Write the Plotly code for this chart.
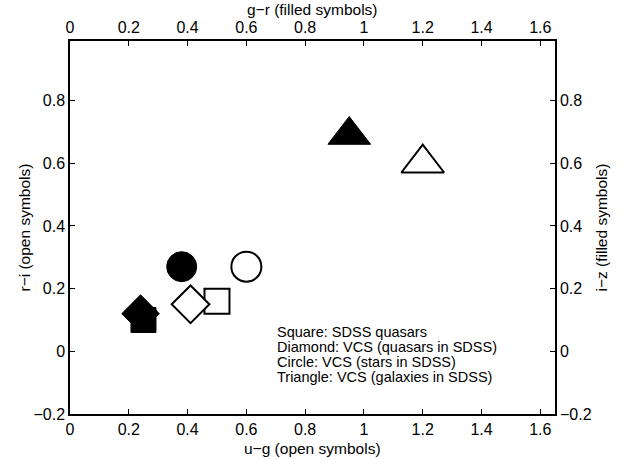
import plotly.graph_objects as go

# Open symbols: u-g (x) vs r-i (y)
open_labels = ["Square", "Diamond", "Circle", "Triangle"]
open_ug = [0.50, 0.41, 0.60, 1.20]
open_ri = [0.16, 0.15, 0.27, 0.60]

# Filled symbols: g-r (x) vs i-z (y)
filled_gr = [0.25, 0.24, 0.38, 0.95]
filled_iz = [0.10, 0.12, 0.27, 0.69]

symbols = ["square", "diamond", "circle", "triangle-up"]
sizes = [25, 29, 30, 37]

x_ticks = [0, 0.2, 0.4, 0.6, 0.8, 1.0, 1.2, 1.4, 1.6]
x_ticktext = ["0", "0.2", "0.4", "0.6", "0.8", "1", "1.2", "1.4", "1.6"]
y_ticks = [-0.2, 0, 0.2, 0.4, 0.6, 0.8]
y_ticktext = ["\u22120.2", "0", "0.2", "0.4", "0.6", "0.8"]

x_title_bottom = "u\u2212g (open symbols)"
x_title_top = "g\u2212r (filled symbols)"
y_title_left = "r\u2212i (open symbols)"
y_title_right = "i\u2212z (filled symbols)"

legend_lines = [
    "Square: SDSS quasars",
    "Diamond: VCS (quasars in SDSS)",
    "Circle: VCS (stars in SDSS)",
    "Triangle: VCS (galaxies in SDSS)",
]

FONT = "Liberation Sans, Arial, Helvetica, sans-serif"
W, H = 625, 459
ML, MR, MT, MB = 70, 70, 41, 45
PW, PH = W - ML - MR, H - MT - MB

fig = go.Figure()

# filled symbols (drawn first)
for i in range(len(symbols)):
    fig.add_trace(go.Scatter(
        x=[filled_gr[i]], y=[filled_iz[i]], mode="markers",
        xaxis="x2", yaxis="y2",
        marker=dict(symbol=symbols[i], size=sizes[i], color="black",
                    line=dict(color="black", width=1)),
        showlegend=False, hoverinfo="skip"))

# open symbols
for i in range(len(symbols)):
    fig.add_trace(go.Scatter(
        x=[open_ug[i]], y=[open_ri[i]], mode="markers",
        xaxis="x", yaxis="y",
        marker=dict(symbol=symbols[i], size=sizes[i], color="white",
                    line=dict(color="black", width=2)),
        showlegend=False, hoverinfo="skip"))

xr = [0, 1.65]
yr = [-0.2, 0.99]
common = dict(showgrid=False, zeroline=False, ticks="inside", ticklen=5,
              tickwidth=1, tickcolor="black", showline=True, linecolor="black",
              linewidth=1.5, automargin=False,
              tickfont=dict(size=16, color="black", family=FONT))

fig.update_layout(
    width=W, height=H,
    margin=dict(l=ML, r=MR, t=MT, b=MB),
    paper_bgcolor="white", plot_bgcolor="white",
    font=dict(family=FONT, color="black"),
    xaxis=dict(range=xr, tickvals=x_ticks, ticktext=x_ticktext,
               side="bottom", **common),
    xaxis2=dict(range=xr, tickvals=x_ticks, ticktext=x_ticktext, overlaying="x",
                side="top", **common),
    yaxis=dict(range=yr, tickvals=y_ticks, ticktext=y_ticktext,
               side="left", **common),
    yaxis2=dict(range=yr, tickvals=y_ticks, ticktext=y_ticktext, overlaying="y",
                side="right", **common),
)

TF = dict(size=15.5, color="black", family=FONT)
# axis titles
fig.add_annotation(x=0.5, y=1 + (MT - 10) / PH, xref="paper", yref="paper",
                   text=x_title_top, showarrow=False, font=TF,
                   xanchor="center", yanchor="middle")
fig.add_annotation(x=0.5, y=-(448 - (H - MB)) / PH, xref="paper", yref="paper",
                   text=x_title_bottom, showarrow=False, font=TF,
                   xanchor="center", yanchor="middle")
fig.add_annotation(x=-(ML - 24) / PW, y=0.5, xref="paper", yref="paper",
                   text=y_title_left, showarrow=False, font=TF, textangle=-90,
                   xanchor="center", yanchor="middle")
fig.add_annotation(x=1 + (601 - (W - MR)) / PW, y=0.5, xref="paper", yref="paper",
                   text=y_title_right, showarrow=False, font=TF, textangle=-90,
                   xanchor="center", yanchor="middle")

# legend text block, one annotation per line
line_step = 15.2 / PH
top_y = (H - MB - 321.5) / PH
for k, line in enumerate(legend_lines):
    fig.add_annotation(
        x=(275 - ML) / PW, y=top_y - k * line_step,
        xref="paper", yref="paper", xanchor="left", yanchor="top",
        text=line, showarrow=False, align="left",
        font=dict(size=14.5, color="black", family=FONT))

fig.write_html("out.html", config={"displayModeBar": False},
               post_script="document.body.style.margin='0';document.body.style.padding='0';")
